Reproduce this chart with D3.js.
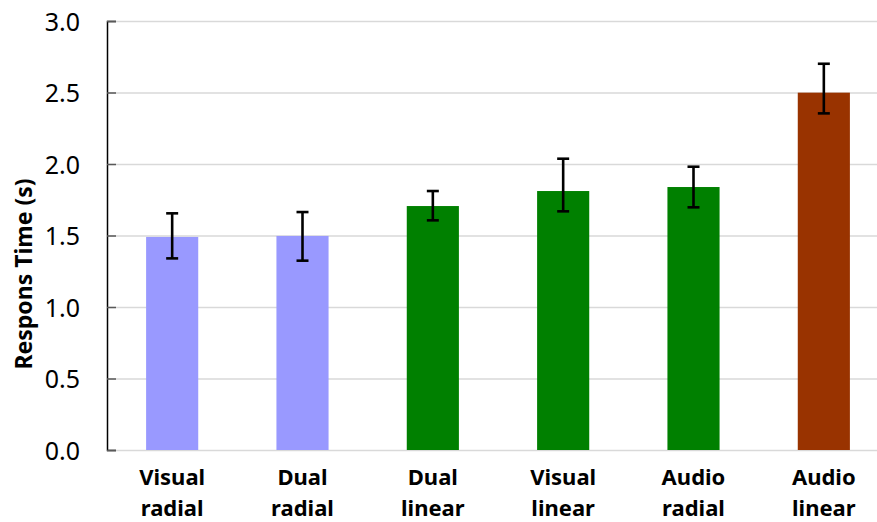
<!DOCTYPE html>
<html>
<head>
<meta charset="utf-8">
<script src="https://cdn.jsdelivr.net/npm/d3@7"></script>
<style>
	body { margin: 0; background: #fff; }
	text { font-family: "Noto Sans", sans-serif; fill: #000; }
</style>
</head>
<body>
<div id="ResponsChartView"></div>
<script>

var categories = [["Visual", "radial"], ["Dual", "radial"], ["Dual", "linear"], ["Visual", "linear"], ["Audio", "radial"], ["Audio", "linear"]];
var meanTimes = [1.49, 1.497, 1.706, 1.811, 1.839, 2.499];
var errLow = [1.34, 1.324, 1.606, 1.669, 1.697, 2.354];
var errHigh = [1.655, 1.664, 1.811, 2.037, 1.981, 2.701];
var barColors = ["#9999ff", "#9999ff", "#008000", "#008000", "#008000", "#993300"];
var yTicks = [0, 0.5, 1.0, 1.5, 2.0, 2.5, 3.0];
var yTitle = "Respons Time (s)";

ResponsChart = function(){

	this.svg = null;
	this.x = null;
	this.y = null;
	this.init();
}

ResponsChart.prototype.init = function() {

	this.svg = d3.select(ResponsChart.div)
				.append("svg")
				.attr("width", ResponsChart.width)
				.attr("height", ResponsChart.height)
				;

	this.x = d3.scaleBand()
				.domain(d3.range(categories.length))
				.range([ResponsChart.left, ResponsChart.right])
				.paddingInner(0.6)
				.paddingOuter(0.3);

	this.y = d3.scaleLinear()
				.domain([0, 3])
				.range([ResponsChart.bottom, ResponsChart.top]);
};

ResponsChart.prototype.drawGrid = function(){

	var y = this.y;
	var grid = this.svg.append("g")
				.attr("transform", "translate(" + ResponsChart.left + ",0)")
				.call(d3.axisRight(y).tickValues(yTicks).tickSize(ResponsChart.width).tickFormat(""));

	grid.select(".domain").remove();
	grid.selectAll(".tick line").attr("stroke", "#d9d9d9").attr("stroke-width", 1.5);
};

ResponsChart.prototype.drawBars = function(){

	var that = this;
	var x = this.x, y = this.y;

	this.svg.append("g")
		.selectAll("rect")
		.data(meanTimes)
		.join("rect")
		.attr("x", function(d, i){ return x(i); })
		.attr("y", function(d){ return y(d); })
		.attr("width", x.bandwidth())
		.attr("height", function(d){ return y(0) - y(d); })
		.attr("fill", function(d, i){ return barColors[i]; });

	// error bars
	var cap = 6;
	var eb = this.svg.append("g")
		.attr("stroke", "#000")
		.attr("stroke-width", 2.6)
		.selectAll("g")
		.data(meanTimes)
		.join("g")
		.attr("transform", function(d, i){ return "translate(" + (x(i) + x.bandwidth()/2) + ",0)"; });

	eb.append("line")
		.attr("y1", function(d, i){ return y(errLow[i]); })
		.attr("y2", function(d, i){ return y(errHigh[i]); });
	eb.append("line")
		.attr("x1", -cap).attr("x2", cap)
		.attr("y1", function(d, i){ return y(errHigh[i]); })
		.attr("y2", function(d, i){ return y(errHigh[i]); });
	eb.append("line")
		.attr("x1", -cap).attr("x2", cap)
		.attr("y1", function(d, i){ return y(errLow[i]); })
		.attr("y2", function(d, i){ return y(errLow[i]); });
};

ResponsChart.prototype.drawAxes = function(){

	var x = this.x, y = this.y;

	var yAxis = this.svg.append("g")
				.attr("transform", "translate(" + ResponsChart.left + ",0)")
				.call(d3.axisLeft(y).tickValues(yTicks).tickSize(-9).tickPadding(27).tickFormat(d3.format(".1f")));

	yAxis.select(".domain").attr("stroke", "#000").attr("stroke-width", 1.5);
	yAxis.selectAll(".tick line").attr("stroke", "#595959").attr("stroke-width", 1.5);
	yAxis.selectAll(".tick text")
		.attr("font-size", 25)
		.attr("font-family", "'Noto Sans', sans-serif")
		.attr("fill", "#000")
		.attr("dy", "0.36em");

	// category labels, two lines each
	var labels = this.svg.append("g")
				.selectAll("text")
				.data(categories)
				.join("text")
				.attr("text-anchor", "middle")
				.attr("font-weight", "bold")
				.attr("font-size", 22)
				.attr("x", function(d, i){ return x(i) + x.bandwidth()/2; })
				.attr("y", 485);

	labels.append("tspan").text(function(d){ return d[0]; });
	labels.append("tspan")
		.attr("x", function(d, i){ return x(i) + x.bandwidth()/2; })
		.attr("dy", 31)
		.text(function(d){ return d[1]; });

	this.svg.append("text")
		.attr("transform", "translate(32,274) rotate(-90)")
		.attr("text-anchor", "middle")
		.attr("font-weight", "bold")
		.attr("font-size", 23)
		.text(yTitle);
};

ResponsChart.prototype.render = function(){

	this.drawGrid();
	this.drawBars();
	this.drawAxes();
};

ResponsChart.width = 877;
ResponsChart.height = 522;
ResponsChart.left = 107;
ResponsChart.right = 889;
ResponsChart.top = 21;
ResponsChart.bottom = 450;
ResponsChart.div = "#ResponsChartView";

var chart = new ResponsChart();
chart.render();

</script>
</body>
</html>
